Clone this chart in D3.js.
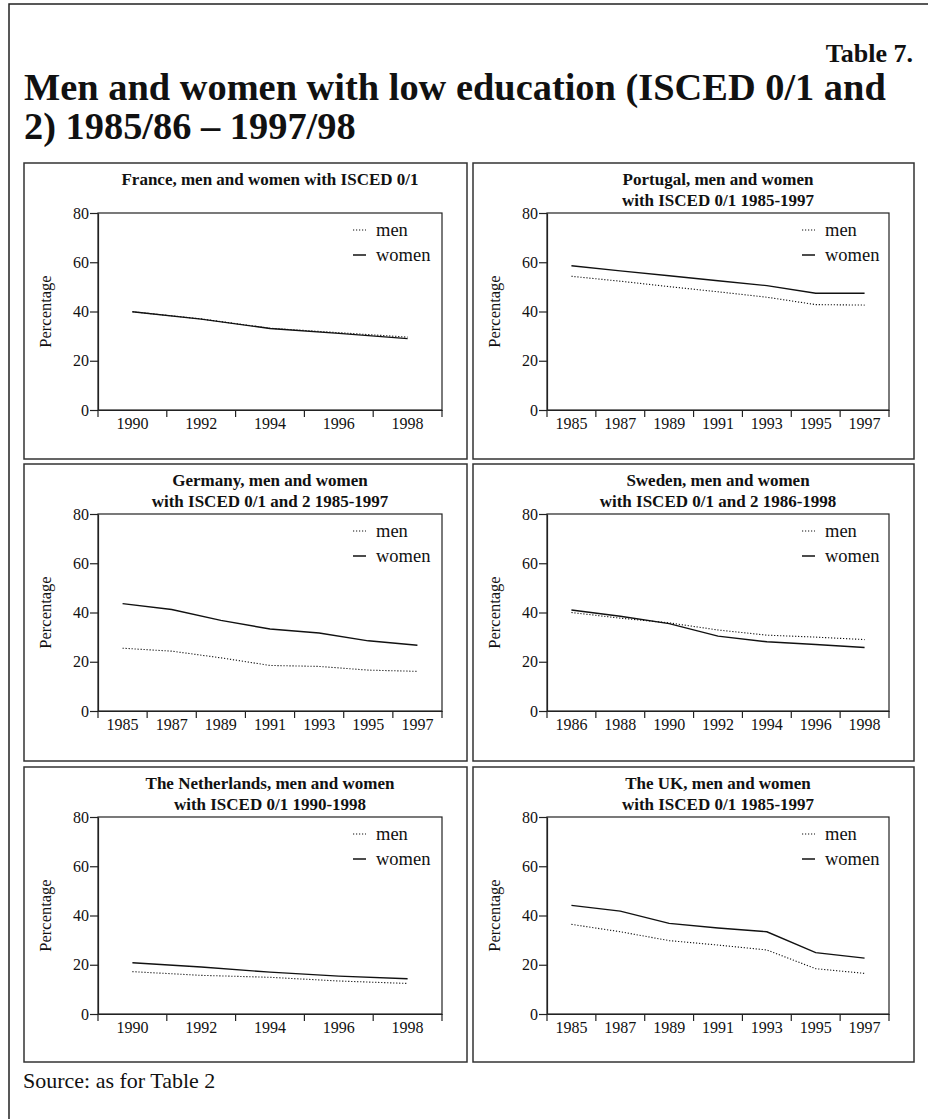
<!DOCTYPE html>
<html>
<head>
<meta charset="utf-8">
<script src="https://cdn.jsdelivr.net/npm/d3@7"></script>
<style>
  body { margin: 0; background: #fff; }
  text { font-family: "Liberation Serif", "Times New Roman", serif; fill: #111; }
</style>
</head>
<body>
<div id="chart"></div>
<script>
// values (percent)
var yearsFrance = ["1990", "1992", "1994", "1996", "1998"];
var menFrance   = [39.9, 37.0, 33.2, 31.4, 29.6];
var womenFrance = [39.9, 36.9, 33.1, 31.1, 29.0];

var yearsPortugal = ["1985", "1987", "1989", "1991", "1993", "1995", "1997"];
var menPortugal   = [54.3, 52.3, 50.1, 48.0, 45.8, 42.8, 42.6];
var womenPortugal = [58.6, 56.5, 54.5, 52.5, 50.5, 47.4, 47.4];

var yearsGermany = ["1985", "1987", "1989", "1991", "1993", "1995", "1997"];
var menGermany   = [25.5, 24.3, 21.6, 18.5, 18.1, 16.6, 16.1];
var womenGermany = [43.6, 41.2, 36.8, 33.3, 31.7, 28.5, 26.7];

var yearsSweden = ["1986", "1988", "1990", "1992", "1994", "1996", "1998"];
var menSweden   = [40.0, 37.7, 35.8, 32.9, 30.8, 30.0, 29.0];
var womenSweden = [41.0, 38.5, 35.5, 30.4, 28.1, 27.0, 25.8];

var yearsNetherlands = ["1990", "1992", "1994", "1996", "1998"];
var menNetherlands   = [17.2, 15.7, 14.9, 13.4, 12.4];
var womenNetherlands = [20.8, 19.1, 17.0, 15.4, 14.3];

var yearsUK = ["1985", "1987", "1989", "1991", "1993", "1995", "1997"];
var menUK   = [36.4, 33.4, 29.8, 28.0, 26.0, 18.4, 16.5];
var womenUK = [44.1, 41.8, 36.8, 34.9, 33.4, 24.9, 22.7];

var yTicks = [0, 20, 40, 60, 80];
var seriesNames = ["men", "women"];

var panels = [
    { title: ["France, men and women with ISCED 0/1"], years: yearsFrance, men: menFrance, women: womenFrance },
    { title: ["Portugal, men and women", "with ISCED 0/1 1985-1997"], years: yearsPortugal, men: menPortugal, women: womenPortugal },
    { title: ["Germany, men and women", "with ISCED 0/1 and 2 1985-1997"], years: yearsGermany, men: menGermany, women: womenGermany },
    { title: ["Sweden, men and women", "with ISCED 0/1 and 2 1986-1998"], years: yearsSweden, men: menSweden, women: womenSweden },
    { title: ["The Netherlands, men and women", "with ISCED 0/1 1990-1998"], years: yearsNetherlands, men: menNetherlands, women: womenNetherlands },
    { title: ["The UK, men and women", "with ISCED 0/1 1985-1997"], years: yearsUK, men: menUK, women: womenUK }
];

var W = 928, H = 1119;
var colX = [24, 473], colW = [443, 441];
var rowY = [163, 464, 767], rowH = [296, 297, 295];
var margin = { left: 74, right: 25, top: 50 };
var plotH = 197;

var svg = d3.select("#chart").append("svg")
    .attr("width", W)
    .attr("height", H);

svg.append("rect").attr("width", W).attr("height", H).attr("fill", "#fff");

// outer frame (left and top only visible)
svg.append("path")
    .attr("d", "M9," + H + "V4H" + W)
    .attr("fill", "none")
    .attr("stroke", "#222")
    .attr("stroke-width", 1.5);

svg.append("text")
    .attr("x", 913).attr("y", 62)
    .attr("text-anchor", "end")
    .attr("font-size", "26px")
    .attr("font-weight", "bold")
    .text("Table 7.");

svg.append("text")
    .attr("x", 24).attr("y", 100)
    .attr("font-size", "38.4px")
    .attr("font-weight", "bold")
    .text("Men and women with low education (ISCED 0/1 and");

svg.append("text")
    .attr("x", 24).attr("y", 139)
    .attr("font-size", "38.4px")
    .attr("font-weight", "bold")
    .text("2) 1985/86 \u2013 1997/98");

svg.append("text")
    .attr("x", 23).attr("y", 1088)
    .attr("font-size", "22px")
    .text("Source: as for Table 2");

panels.forEach(function(p, i){
    var col = i % 2, row = Math.floor(i / 2);
    var px = colX[col], py = rowY[row];
    var pw = colW[col], ph = rowH[row];
    var plotW = pw - margin.left - margin.right;

    svg.append("rect")
        .attr("x", px).attr("y", py)
        .attr("width", pw).attr("height", ph)
        .attr("fill", "none")
        .attr("stroke", "#333")
        .attr("stroke-width", 1.5);

    var g = svg.append("g")
        .attr("transform", "translate(" + (px + margin.left) + "," + (py + margin.top) + ")");

    // title
    p.title.forEach(function(line, k){
        g.append("text")
            .attr("x", plotW / 2)
            .attr("y", -28 + k * 21)
            .attr("text-anchor", "middle")
            .attr("font-size", "17px")
            .attr("font-weight", "bold")
            .text(line);
    });

    var x = d3.scaleBand().domain(p.years).range([0, plotW]).padding(0);
    var y = d3.scaleLinear().domain([0, 80]).range([plotH, 0]);

    // frame
    g.append("rect")
        .attr("width", plotW).attr("height", plotH)
        .attr("fill", "none")
        .attr("stroke", "#222")
        .attr("stroke-width", 1.2);

    var yAxis = g.append("g")
        .call(d3.axisLeft(y).tickValues(yTicks).tickSize(8).tickSizeOuter(0).tickPadding(1));
    yAxis.attr("font-size", 16).attr("font-family", null);
    yAxis.selectAll("line, path").attr("stroke", "#222").attr("stroke-width", 1.2);

    var xAxis = g.append("g")
        .attr("transform", "translate(0," + plotH + ")")
        .call(d3.axisBottom(x).tickSize(0).tickPadding(8));
    xAxis.attr("font-size", 16).attr("font-family", null);
    xAxis.select(".domain").attr("stroke", "#222").attr("stroke-width", 1.2);

    // ticks between the year bands
    xAxis.selectAll("line.bound")
        .data(d3.range(p.years.length + 1))
        .enter().append("line")
        .attr("class", "bound")
        .attr("x1", function(d){ return d * x.step(); })
        .attr("x2", function(d){ return d * x.step(); })
        .attr("y1", 0).attr("y2", 7)
        .attr("stroke", "#222")
        .attr("stroke-width", 1.2);

    g.append("text")
        .attr("transform", "translate(" + (-53) + "," + (plotH / 2) + ") rotate(-90)")
        .attr("text-anchor", "middle")
        .attr("dy", "0.35em")
        .attr("font-size", "16.5px")
        .text("Percentage");

    var line = d3.line()
        .x(function(d){ return x(d.year) + x.bandwidth() / 2; })
        .y(function(d){ return y(d.v); });

    var menData = p.years.map(function(yr, j){ return { year: yr, v: p.men[j] }; });
    var womenData = p.years.map(function(yr, j){ return { year: yr, v: p.women[j] }; });

    g.append("path")
        .datum(menData)
        .attr("d", line)
        .attr("fill", "none")
        .attr("stroke", "#111")
        .attr("stroke-width", 1.1)
        .attr("stroke-dasharray", "1.2,1.8");

    g.append("path")
        .datum(womenData)
        .attr("d", line)
        .attr("fill", "none")
        .attr("stroke", "#111")
        .attr("stroke-width", 1.4);

    // legend
    var leg = g.append("g").attr("transform", "translate(255,17)");
    seriesNames.forEach(function(name, k){
        var ly = k * 25;
        leg.append("line")
            .attr("x1", 0).attr("x2", 13)
            .attr("y1", ly).attr("y2", ly)
            .attr("stroke", "#111")
            .attr("stroke-width", name == "men" ? 1.1 : 1.5)
            .attr("stroke-dasharray", name == "men" ? "1.2,1.8" : null);
        leg.append("text")
            .attr("x", 23).attr("y", ly)
            .attr("dy", "0.3em")
            .attr("font-size", "18.5px")
            .text(name);
    });
});
</script>
</body>
</html>
